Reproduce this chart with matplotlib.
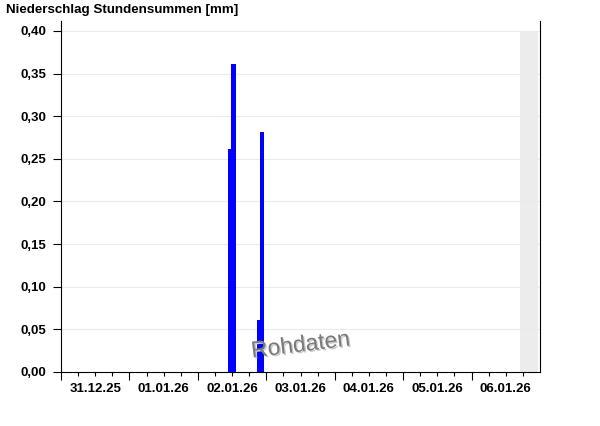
import datetime as dt

import matplotlib
matplotlib.use("Agg")
import matplotlib.pyplot as plt
import matplotlib.dates as mdates
import matplotlib.patheffects as pe
from matplotlib.ticker import FuncFormatter

plt.rcParams['font.family'] = ['Liberation Sans', 'DejaVu Sans']

# hourly precipitation sums [mm], bar starts at the given hour
hours = [dt.datetime(2026, 1, 2, 11), dt.datetime(2026, 1, 2, 12),
         dt.datetime(2026, 1, 2, 21), dt.datetime(2026, 1, 2, 22)]
values = [0.26, 0.36, 0.06, 0.28]

x_start = dt.datetime(2025, 12, 31)
x_end = dt.datetime(2026, 1, 7)
n_days = 7
# greyed out period (no data yet)
grey_start = dt.datetime(2026, 1, 6, 17)
grey_end = dt.datetime(2026, 1, 6, 23, 15)

fig = plt.figure(figsize=(6, 4.26), dpi=100)
ax = fig.add_axes([61 / 600, 1 - 372 / 426, 479 / 600, 350.5 / 426])

ytop = 0.411
ax.set_xlim(x_start, x_end)
ax.set_ylim(0, ytop)

ax.axvspan(grey_start, grey_end, ymin=0, ymax=0.40 / ytop, color='#ececec', lw=0, zorder=0)
ax.bar(hours, values, width=1 / 24, align='edge', color='#0000ff',
       edgecolor='#0000ff', lw=0.3, antialiased=False, zorder=3)

ax.set_yticks([i * 0.05 for i in range(9)])
ax.yaxis.set_major_formatter(FuncFormatter(lambda v, p: f"{v:.2f}".replace('.', ',')))
ax.grid(axis='y', color='#ebebeb', lw=0.8, zorder=1)
ax.set_axisbelow(True)

# day ticks (no label), 6-hour minor ticks, date label at noon
day_ticks = [x_start + dt.timedelta(days=i) for i in range(n_days)]
minor_ticks = [d + dt.timedelta(hours=h) for d in day_ticks for h in (6, 12, 18)]
ax.set_xticks(day_ticks)
ax.set_xticklabels([''] * len(day_ticks))
ax.set_xticks(minor_ticks, minor=True)
ax.set_xticklabels([d.strftime('%d.%m.%y') if d.hour == 12 else '' for d in minor_ticks],
                   minor=True)

ax.tick_params(axis='y', length=5.8, width=0.8, pad=4.5, labelsize=9.5, direction='out')
ax.tick_params(axis='x', which='major', length=5.4, width=0.8, direction='out')
ax.tick_params(axis='x', which='minor', length=2.6, width=0.8, pad=5, labelsize=9.5, direction='out')
for lab in ax.get_yticklabels() + ax.get_xticklabels(minor=True):
    lab.set_fontweight('bold')

ax.spines['top'].set_visible(False)
for s in ['left', 'right', 'bottom']:
    ax.spines[s].set_linewidth(0.8)
    ax.spines[s].set_color('black')

fig.text(6 / 600, 1 - 9.5 / 426, 'Niederschlag Stundensummen [mm]', fontsize=9.6,
         fontweight='bold', ha='left', va='center')

ax.text(0.5, 0.077, 'Rohdaten', transform=ax.transAxes, fontsize=16.5, color='#7a7a7a',
        rotation=7, ha='center', va='center', zorder=4,
        path_effects=[pe.withSimplePatchShadow(offset=(1, -1), shadow_rgbFace='#c8c8c8', alpha=1)])

fig.savefig('out.png', dpi=100)
